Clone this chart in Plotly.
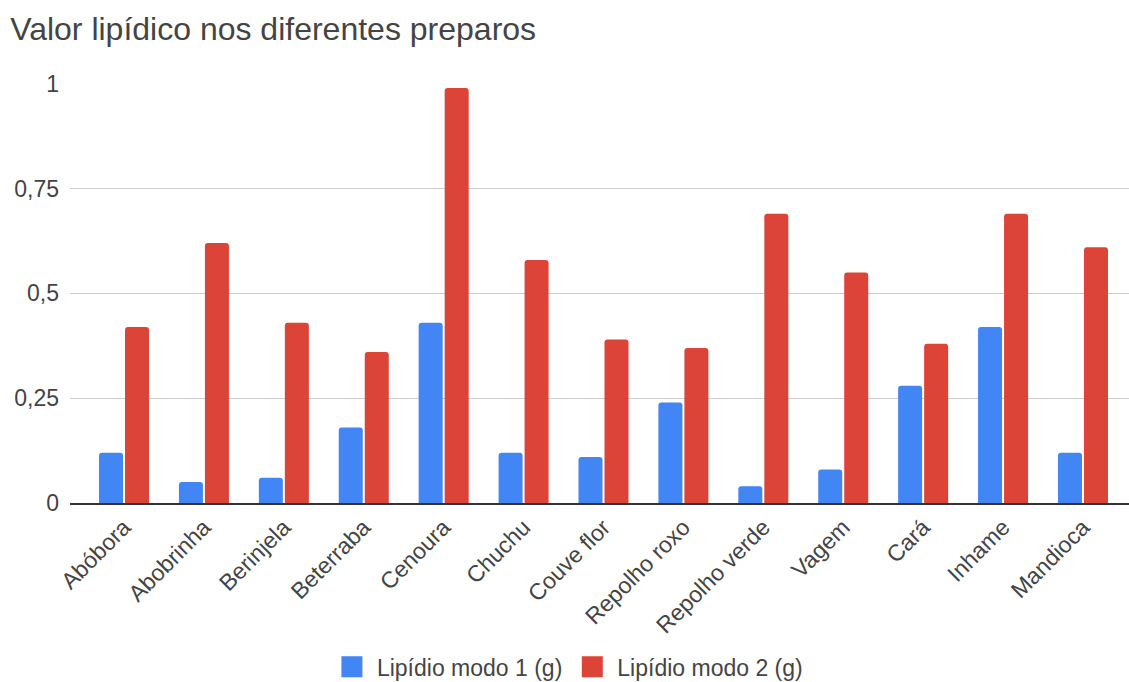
import plotly.graph_objects as go

categories = ["Abóbora", "Abobrinha", "Berinjela", "Beterraba", "Cenoura", "Chuchu",
              "Couve flor", "Repolho roxo", "Repolho verde", "Vagem", "Cará", "Inhame", "Mandioca"]
modo1 = [0.12, 0.05, 0.06, 0.18, 0.43, 0.12, 0.11, 0.24, 0.04, 0.08, 0.28, 0.42, 0.12]
modo2 = [0.42, 0.62, 0.43, 0.36, 0.99, 0.58, 0.39, 0.37, 0.69, 0.55, 0.38, 0.69, 0.61]
series_names = ["Lipídio modo 1 (g)", "Lipídio modo 2 (g)"]
colors = ["#4285F4", "#DB4437"]
y_ticks = [0, 0.25, 0.5, 0.75, 1]

FONT = "Liberation Sans, Arial, sans-serif"

fig = go.Figure()
for name, vals, col in zip(series_names, [modo1, modo2], colors):
    fig.add_trace(go.Bar(x=list(range(len(categories))), y=vals, name=name,
                         marker=dict(color=col, line=dict(width=0)), showlegend=False))
# legend entries
for name, col in zip(series_names, colors):
    fig.add_trace(go.Scatter(x=[None], y=[None], mode="markers", name=name,
                             marker=dict(symbol="square", size=16, color=col,
                                         line=dict(color=col, width=5))))

fig.update_layout(
    width=1129, height=682,
    margin=dict(l=70, r=0, t=83, b=179, autoexpand=False),
    paper_bgcolor="white", plot_bgcolor="white",
    separators=",.",
    barmode="group", bargap=0.349, bargroupgap=0.077, barcornerradius=3,
    font=dict(family=FONT, size=23, color="#444"),
    title=dict(text="Valor lipídico nos diferentes preparos", x=0.009, xref="container",
               xanchor="left", y=1 - 29 / 682, yref="container", yanchor="middle",
               font=dict(family=FONT, size=32, color="#444")),
    xaxis=dict(range=[-0.676, 12.576], tickmode="array",
               tickvals=list(range(len(categories))), ticktext=categories,
               tickangle=-45, showgrid=False, zeroline=False, automargin=False,
               showline=True, linecolor="#333", linewidth=1.5,
               ticks="", tickfont=dict(size=23, color="#444")),
    yaxis=dict(range=[0, 1.002], tickvals=y_ticks, showgrid=True, gridcolor="#cccccc",
               gridwidth=1, zeroline=False, ticks="", ticklabelstandoff=10, automargin=False,
               tickfont=dict(size=23, color="#444")),
    legend=dict(orientation="h", x=0.4697, xanchor="center", y=-0.39, yanchor="middle",
                font=dict(size=23, color="#444"), itemsizing="trace", itemwidth=40),
)

fig.write_html("out.html")
